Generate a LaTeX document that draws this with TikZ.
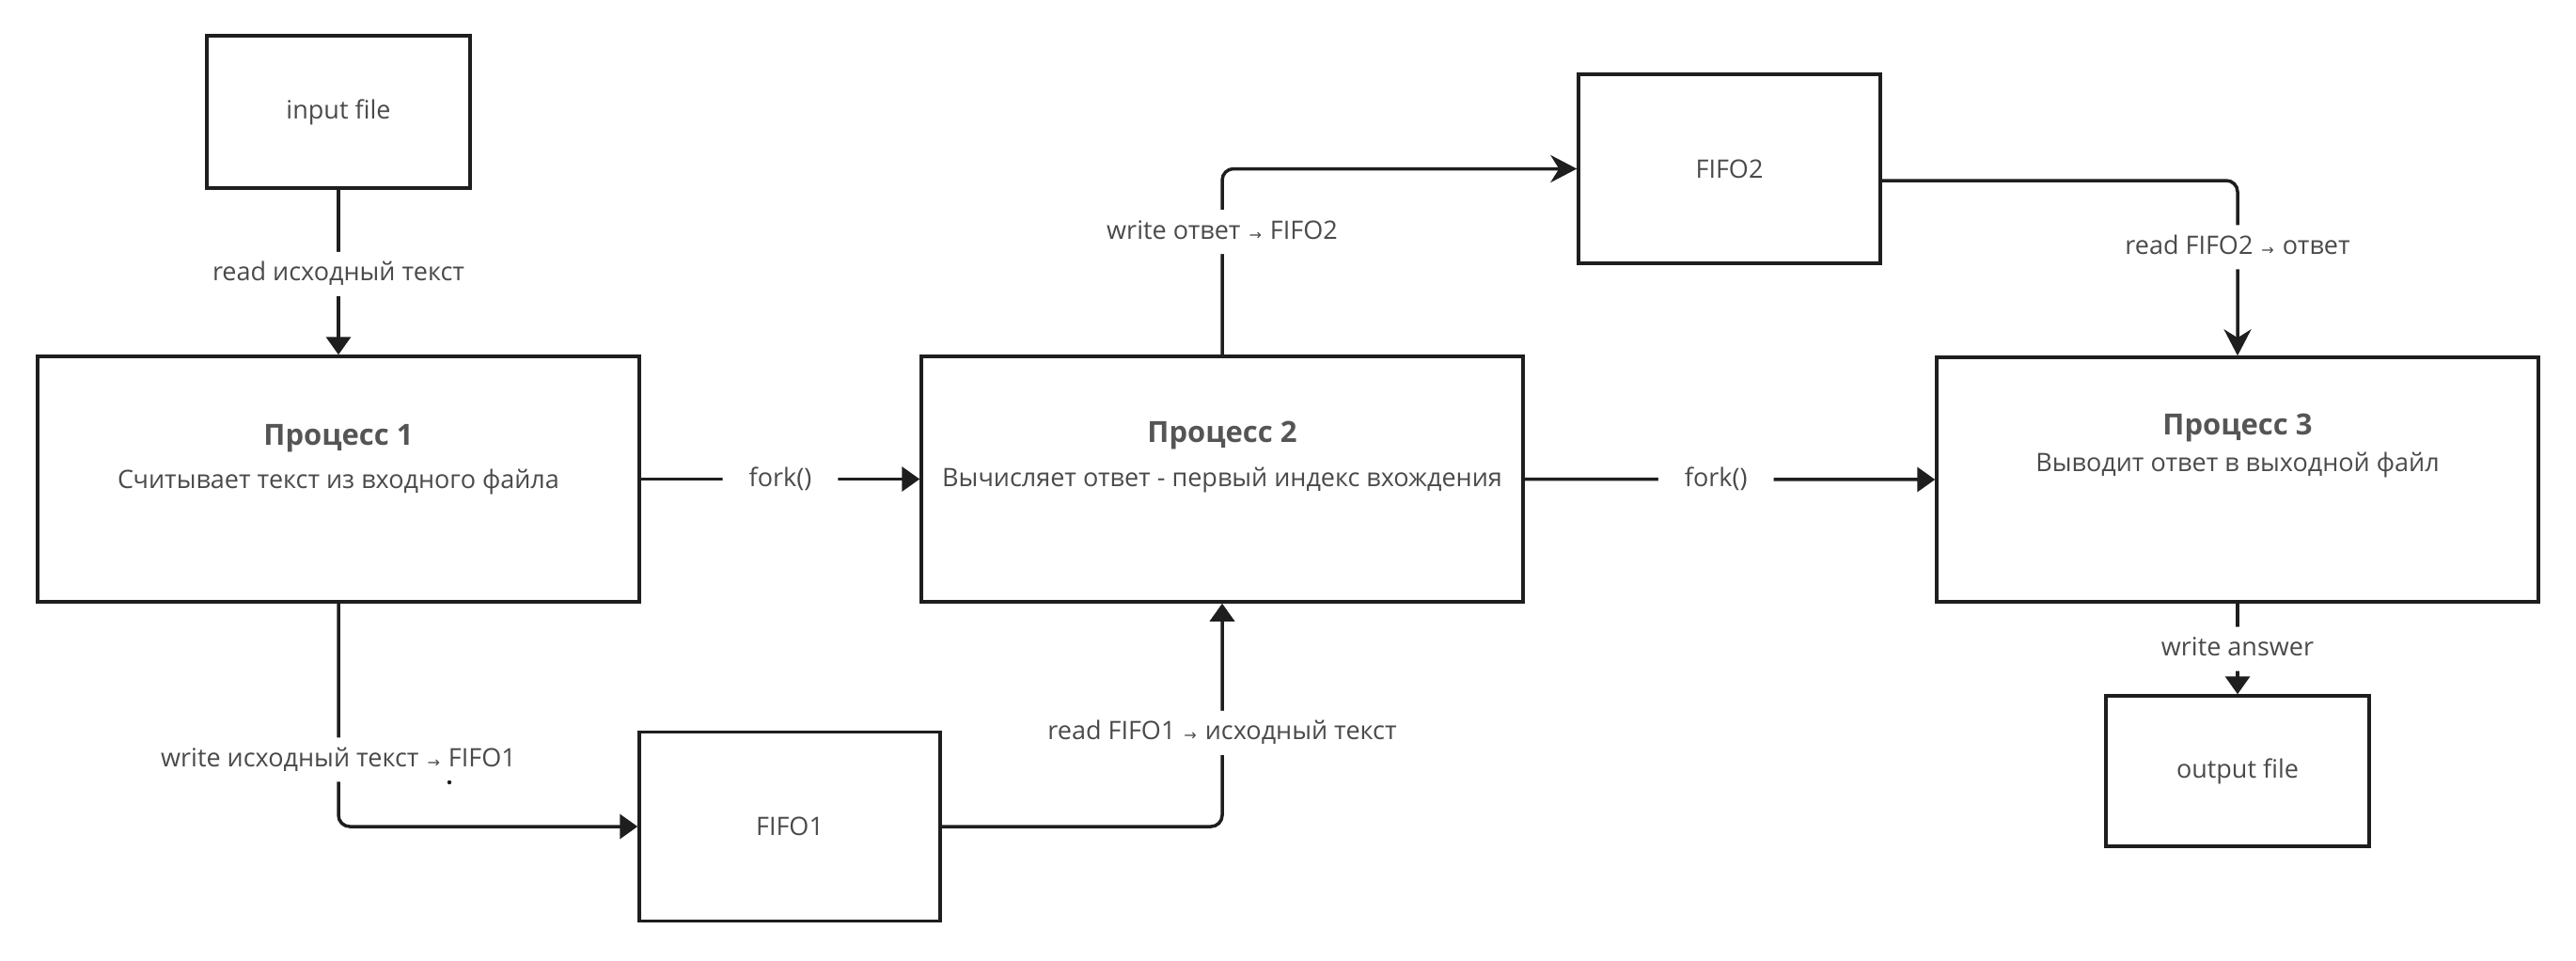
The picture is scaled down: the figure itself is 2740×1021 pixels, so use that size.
\documentclass[tikz,border=0pt]{standalone}
\usepackage{fontspec}
\setmainfont{Open Sans}
\newfontfamily\arrowfont{DejaVu Sans}
\usetikzlibrary{arrows.meta}
\newcommand\rarr{\hspace{9pt}{\arrowfont\fontsize{16}{16}\selectfont\raisebox{-1pt}{→}}\hspace{9pt}}
\definecolor{ink}{HTML}{1E1E1E}
\definecolor{txt}{HTML}{4A4A4A}
\definecolor{ttl}{HTML}{555555}
\tikzset{
  box/.style={draw=ink, line width=3.5pt, minimum width=#1, inner sep=0pt, font=\fontsize{27}{31}\selectfont, text=txt},
  conn/.style={draw=ink, line width=3.5pt, rounded corners=12pt},
  tri/.style={-{Triangle[length=19pt,width=26pt]}},
  stl/.style={-{Stealth[length=28pt,width=29pt,inset=9pt]}},
  lbl/.style={fill=white, inner xsep=28pt, inner ysep=10pt, text=txt, font=\fontsize{27}{31}\selectfont, text height=21pt, text depth=6pt},
  ttlstyle/.style={font=\bfseries\fontsize{31}{35}\selectfont, text=ttl, inner sep=0pt},
  subst/.style={font=\fontsize{27}{31}\selectfont, text=txt, inner sep=0pt},
}
\begin{document}
\begin{tikzpicture}[x=1pt,y=-1pt]
\useasboundingbox (0,0) rectangle (2740,1021);
% boxes
\node[box=280pt, minimum height=162pt] (in) at (360,119) {\raisebox{-4pt}{input file}};
\node[box=640pt, minimum height=261pt] (p1) at (360,509.5) {};
\node[box=640pt, minimum height=261pt] (p2) at (1300,509.5) {};
\node[box=640pt, minimum height=260pt] (p3) at (2380,510) {};
\node[box=320pt, minimum height=201pt] (f1) at (840,879) {FIFO1};
\node[box=321pt, minimum height=201pt] (f2) at (1839.5,179.5) {FIFO2};
\node[box=280pt, minimum height=160pt] (out) at (2380,820) {\raisebox{-2pt}{output file}};
% box texts
\node[ttlstyle] (p1t) at (360,466) {Процесс 1};
\node[subst] (p1s) at (360,512) {Считывает текст из входного файла};
\node[ttlstyle] (p2t) at (1300,463) {Процесс 2};
\node[subst] (p2s) at (1300,511) {Вычисляет ответ - первый индекс вхождения};
\node[ttlstyle] (p3t) at (2380,455) {Процесс 3};
\node[subst] (p3s) at (2380,494) {Выводит ответ в выходной файл};
% connectors
\coordinate (f2o) at (2000,192);
\draw[conn,tri] (in.south) -- node[lbl,pos=0.51] (l1) {read исходный текст} (p1.north);
\draw[conn,tri] (p1.east) -- node[lbl,pos=0.5] (l2) {fork()} (p2.west);
\draw[conn,tri] (p1.south) |- node[lbl,pos=0.35] (l3) {write исходный текст\rarr FIFO1} (f1.west);
\draw[conn,tri] (f1.east) -| node[lbl,pos=0.71] (l4) {read FIFO1\rarr исходный текст} (p2.south);
\draw[conn,stl] (p2.north) |- node[lbl,pos=0.33] (l5) {write ответ\rarr FIFO2} (f2.west);
\draw[conn,stl] (f2o) -| node[lbl,pos=0.69] (l6) {read FIFO2\rarr ответ} (p3.north);
\draw[conn,tri] (p2.east) -- node[lbl,pos=0.466] (l7) {fork()} (p3.west);
\draw[conn,tri] (p3.south) -- node[lbl,pos=0.5] (l8) {write answer} (out.north);
% small dot
\fill[ink] (478,832) circle (2.2pt);
\end{tikzpicture}
\end{document}
